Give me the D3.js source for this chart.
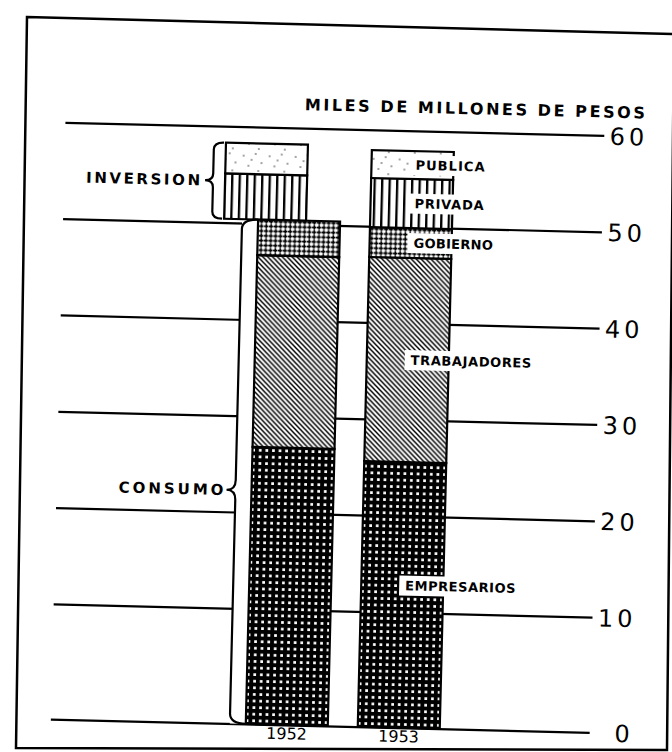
<!DOCTYPE html>
<html><head><meta charset="utf-8">
<script src="https://cdn.jsdelivr.net/npm/d3@7"></script>
<style>html,body{margin:0;padding:0;background:#fff;} svg{display:block;}</style>
</head><body>
<svg id="chart" width="672" height="752"></svg>
<script>
// ---------- data ----------
const years = ["1952", "1953"];
const empresarios  = [26.8, 25.6];
const trabajadores = [19.9, 21.2];
const gobierno     = [3.7, 3.1];
const privada      = [4.7, 5.1];
const publica      = [3.2, 2.9];
const segmentKeys   = ["empresarios", "trabajadores", "gobierno", "privada", "publica"];
const segmentLabels = ["EMPRESARIOS", "TRABAJADORES", "GOBIERNO", "PRIVADA", "PUBLICA"];
const yTicks = [0, 10, 20, 30, 40, 50, 60];
const title = "MILES DE MILLONES DE PESOS";

// ---------- layout ----------
const svg = d3.select("#chart");
const defs = svg.append("defs");
const INV_SHIFT = {"1952": -34, "1953": 0};
const FONT = "DejaVu Sans, sans-serif";

function pat(id, w, h, build) {
  const p = defs.append("pattern").attr("id", id).attr("patternUnits", "userSpaceOnUse")
    .attr("width", w).attr("height", h);
  build(p);
}
pat("pEmp", 6.6, 6.6, p => {
  p.append("rect").attr("width", 6.6).attr("height", 6.6).attr("fill", "#000");
  p.append("rect").attr("x", 2).attr("y", 2).attr("width", 2.7).attr("height", 2.7).attr("fill", "#fff");
});
pat("pTrab", 5, 5, p => {
  p.append("rect").attr("width", 5).attr("height", 5).attr("fill", "#fff");
  p.append("path").attr("d", "M-1.25,-1.25L6.25,6.25M-1.25,3.75L1.25,6.25M3.75,-1.25L6.25,1.25")
    .attr("stroke", "#000").attr("stroke-width", 1.5);
});
pat("pGob", 4.8, 4.8, p => {
  p.append("rect").attr("width", 4.8).attr("height", 4.8).attr("fill", "#fff");
  p.append("rect").attr("x", 0).attr("y", 1.6).attr("width", 4.3).attr("height", 1.7).attr("fill", "#000");
  p.append("rect").attr("x", 1.4).attr("y", 0.2).attr("width", 1.6).attr("height", 4.3).attr("fill", "#000");
});
pat("pPriv", 7.5, 10, p => {
  p.append("rect").attr("width", 7.5).attr("height", 10).attr("fill", "#fff");
  p.append("rect").attr("x", 0).attr("width", 2.3).attr("height", 10).attr("fill", "#000");
});
pat("pPub", 26, 22, p => {
  p.append("rect").attr("width", 26).attr("height", 22).attr("fill", "#fff");
  [[3,4],[15,2],[21,11],[8,14],[18,19],[11,8]].forEach(([cx, cy]) =>
    p.append("circle").attr("cx", cx).attr("cy", cy).attr("r", 0.7).attr("fill", "#000"));
});
const fills = {empresarios: "url(#pEmp)", trabajadores: "url(#pTrab)", gobierno: "url(#pGob)",
               privada: "url(#pPriv)", publica: "url(#pPub)"};

// outer frame (scanned page border, slightly skewed)
svg.append("path").attr("d", "M27,17 L674,34 L667,750 L16,748 Z")
  .attr("fill", "none").attr("stroke", "#000").attr("stroke-width", 2.5);

const g = svg.append("g").attr("transform", "rotate(1.4,336,430)");

const y = d3.scaleLinear().domain([0, 10, 60]).range([726, 610.8, 129]);
const x = d3.scaleBand().domain(years).range([253, 447]).paddingInner(0.268);
const bw = x.bandwidth();

// grid + value axis
const axisX = 597;
const yAxis = d3.axisRight(y).tickValues(yTicks).tickSizeInner(-(axisX - 58)).tickSizeOuter(0).tickPadding(44);
const ya = g.append("g").attr("transform", `translate(${axisX},0)`).call(yAxis);
ya.select(".domain").remove();
ya.selectAll(".tick line").attr("stroke", "#000").attr("stroke-width", 2.2);
ya.selectAll(".tick text").attr("fill", "#000").attr("font-family", FONT).attr("text-anchor", "end")
  .attr("font-size", 24).attr("letter-spacing", 4).attr("dy", "0.36em");

// title
g.append("text").attr("x", 297).attr("y", 111).text(title)
  .attr("font-family", FONT).attr("font-weight", "bold").attr("font-size", 16)
  .attr("textLength", 340).attr("lengthAdjust", "spacing");

// stacked data
const rows = years.map((yr, i) => ({year: yr, empresarios: empresarios[i], trabajadores: trabajadores[i],
  gobierno: gobierno[i], privada: privada[i], publica: publica[i]}));
const stacked = d3.stack().keys(segmentKeys)(rows);

// mask between consumo brace and 1952 bar
const consTop1952 = stacked[2][0][1];
g.append("rect").attr("x", x("1952") - 16).attr("y", y(consTop1952))
  .attr("width", 16).attr("height", y(0) - y(consTop1952)).attr("fill", "#fff");

// bars
stacked.forEach((layer, li) => {
  const key = segmentKeys[li];
  const inv = key === "privada" || key === "publica";
  g.selectAll(null).data(layer).join("rect")
    .attr("x", d => x(d.data.year) + (inv ? INV_SHIFT[d.data.year] : 0))
    .attr("width", bw)
    .attr("y", d => y(d[1])).attr("height", d => y(d[0]) - y(d[1]))
    .attr("fill", fills[key]).attr("stroke", "#000").attr("stroke-width", 2.2);
});

// segment labels on last year
const lastYear = years[years.length - 1];
const li = years.length - 1;
stacked.forEach((layer, k) => {
  const d = layer[li];
  const mid = y((d[0] + d[1]) / 2);
  const bx = x(lastYear) + bw - 44;
  const label = segmentLabels[k];
  const tl = label.length * 10.3 - 3;
  g.append("rect").attr("x", bx).attr("y", mid - 10).attr("width", tl + 14).attr("height", 20).attr("fill", "#fff");
  g.append("text").attr("x", bx + 6).attr("y", mid).attr("dy", "0.36em").text(label)
    .attr("font-family", FONT).attr("font-weight", "bold").attr("font-size", 13)
    .attr("textLength", tl).attr("lengthAdjust", "spacing");
});

// braces
function brace(xl, xm, xr, y1, yt, y2, r) {
  return `M${xr},${y1} Q${xm},${y1} ${xm},${y1 + r} L${xm},${yt - r} Q${xm},${yt} ${xl},${yt}` +
         ` Q${xm},${yt} ${xm},${yt + r} L${xm},${y2 - r} Q${xm},${y2} ${xr},${y2}`;
}
const inv1952Left = x("1952") + INV_SHIFT["1952"];
const invBot = stacked[3][0][0], invTop = stacked[4][0][1];
const invMid = (y(invBot) + y(invTop)) / 2;
g.append("path").attr("d", brace(inv1952Left - 20, inv1952Left - 12, inv1952Left - 2, y(invTop), invMid, y(invBot), 7))
  .attr("fill", "none").attr("stroke", "#000").attr("stroke-width", 2.2);
const consMid = y(0) + (y(consTop1952) - y(0)) * 0.463;
const bl = x("1952");
g.append("path").attr("d", brace(bl - 25, bl - 16, bl, y(consTop1952), consMid, y(0), 10))
  .attr("fill", "none").attr("stroke", "#000").attr("stroke-width", 2.2);

g.append("text").attr("x", inv1952Left - 25).attr("y", invMid).attr("dy", "0.36em").attr("text-anchor", "end")
  .text("INVERSION").attr("font-family", FONT).attr("font-weight", "bold")
  .attr("font-size", 15).attr("textLength", 114).attr("lengthAdjust", "spacing");
g.append("text").attr("x", bl - 28).attr("y", consMid).attr("dy", "0.36em").attr("text-anchor", "end")
  .text("CONSUMO").attr("font-family", FONT).attr("font-weight", "bold")
  .attr("font-size", 15).attr("textLength", 105).attr("lengthAdjust", "spacing");

// year axis
const xa = g.append("g").attr("transform", `translate(0,${y(0)})`)
  .call(d3.axisBottom(x).tickSize(0).tickPadding(3));
xa.select(".domain").remove();
xa.selectAll(".tick text").attr("fill", "#000").attr("font-family", FONT).attr("font-size", 16);
</script>
</body></html>
